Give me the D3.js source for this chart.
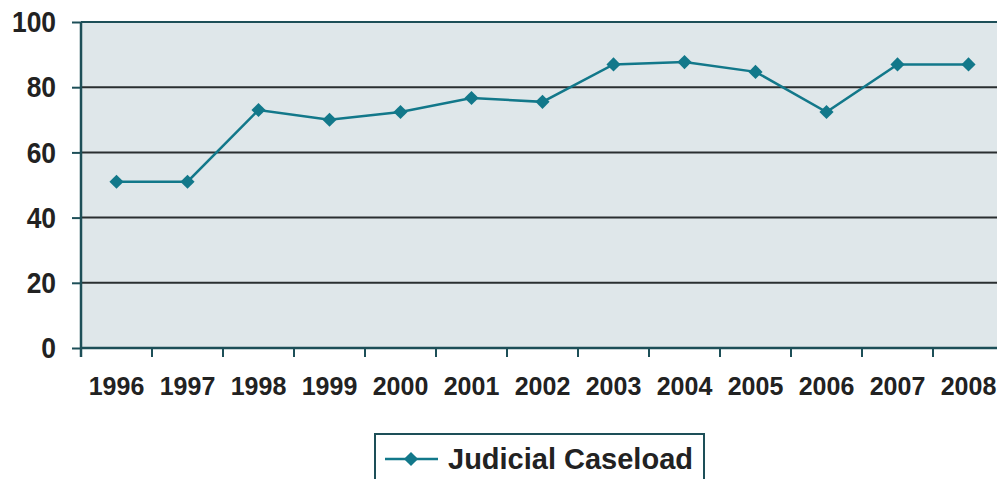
<!DOCTYPE html>
<html lang="en">
<head>
<meta charset="utf-8">
<title>Judicial Caseload</title>
<script src="https://d3js.org/d3.v7.min.js"></script>
<style>
    body { margin: 0; background: #fff; }
    text { font-family: "Liberation Sans", Arial, sans-serif; font-weight: bold; fill: #222; }
</style>
</head>
<body>
<svg width="997" height="479"></svg>
<script>
    // values
    var years = ["1996", "1997", "1998", "1999", "2000", "2001", "2002", "2003", "2004", "2005", "2006", "2007", "2008"];
    var caseload = [51, 51, 73, 70, 72.4, 76.7, 75.5, 87, 87.7, 84.7, 72.4, 87, 87];
    var yTicks = [0, 20, 40, 60, 80, 100];
    var seriesName = "Judicial Caseload";

    var svg = d3.select("svg"),
        margin = {top: 22, left: 81},
        width = 923,
        height = 326,
        g = svg.append("g").attr("transform", "translate(" + margin.left + "," + margin.top + ")");

    var lineColor = "#12788a",
        axisColor = "#1d4f58";

    var x = d3.scaleBand().domain(years).range([0, width]),
        y = d3.scaleLinear().domain([0, 100]).range([height, 0]);

    g.append("rect")
        .attr("width", width)
        .attr("height", height)
        .attr("fill", "#dfe7ea");

    // gridlines
    g.selectAll(".grid")
        .data(yTicks.filter(function(d) { return d > 0 && d < 100; }))
        .enter().append("line")
        .attr("x1", 0).attr("x2", width)
        .attr("y1", function(d) { return y(d); })
        .attr("y2", function(d) { return y(d); })
        .attr("stroke", "#2a2f30")
        .attr("stroke-width", 2);

    g.append("line")
        .attr("x1", 0).attr("x2", width)
        .attr("y1", y(100)).attr("y2", y(100))
        .attr("stroke", axisColor).attr("stroke-width", 2);

    // y axis - labels are a bit taller than wide in the original, so squeeze them
    var yAxis = g.append("g")
        .call(d3.axisLeft(y).tickValues(yTicks).tickSize(9).tickPadding(16));
    yAxis.select(".domain").remove();
    yAxis.selectAll(".tick line").attr("stroke", axisColor).attr("stroke-width", 2);
    yAxis.selectAll(".tick text")
        .style("font-size", "30px")
        .attr("fill", "#222")
        .attr("x", null)
        .attr("transform", "translate(-25,0) scale(0.88,1)");
    g.append("line")
        .attr("x1", 0).attr("x2", 0)
        .attr("y1", 0).attr("y2", height + 9)
        .attr("stroke", axisColor).attr("stroke-width", 2.5);

    // x axis
    var xAxis = g.append("g")
        .attr("transform", "translate(0," + height + ")")
        .call(d3.axisBottom(x).tickSize(0).tickPadding(29));
    xAxis.select(".domain").remove();
    xAxis.selectAll(".tick text").style("font-size", "25px").attr("fill", "#222");
    g.append("line")
        .attr("x1", 0).attr("x2", width)
        .attr("y1", height).attr("y2", height)
        .attr("stroke", axisColor).attr("stroke-width", 2.5);
    g.selectAll(".xtick")
        .data(years.slice(1))
        .enter().append("line")
        .attr("x1", function(d) { return x(d); })
        .attr("x2", function(d) { return x(d); })
        .attr("y1", height).attr("y2", height + 9)
        .attr("stroke", axisColor).attr("stroke-width", 2);

    // series
    var data = years.map(function(yr, i) { return {year: yr, value: caseload[i]}; });
    var line = d3.line()
        .x(function(d) { return x(d.year) + x.bandwidth() / 2; })
        .y(function(d) { return y(d.value); });

    g.append("path")
        .datum(data)
        .attr("d", line)
        .attr("fill", "none")
        .attr("stroke", lineColor)
        .attr("stroke-width", 2.5);

    var diamond = d3.symbol().type(d3.symbolSquare).size(100);
    g.selectAll(".pt")
        .data(data)
        .enter().append("path")
        .attr("d", diamond)
        .attr("transform", function(d) {
            return "translate(" + (x(d.year) + x.bandwidth() / 2) + "," + y(d.value) + ") rotate(45)";
        })
        .attr("fill", lineColor);

    // legend
    var legend = svg.append("g").attr("transform", "translate(375,434)");
    legend.append("rect")
        .attr("width", 329).attr("height", 60)
        .attr("fill", "#fff")
        .attr("stroke", axisColor).attr("stroke-width", 2);
    legend.append("line")
        .attr("x1", 10).attr("x2", 63)
        .attr("y1", 25).attr("y2", 25)
        .attr("stroke", lineColor).attr("stroke-width", 2.5);
    legend.append("path")
        .attr("d", diamond)
        .attr("transform", "translate(36,25) rotate(45)")
        .attr("fill", lineColor);
    legend.append("text")
        .attr("x", 73).attr("y", 35)
        .style("font-size", "29px")
        .text(seriesName);
</script>
</body>
</html>
